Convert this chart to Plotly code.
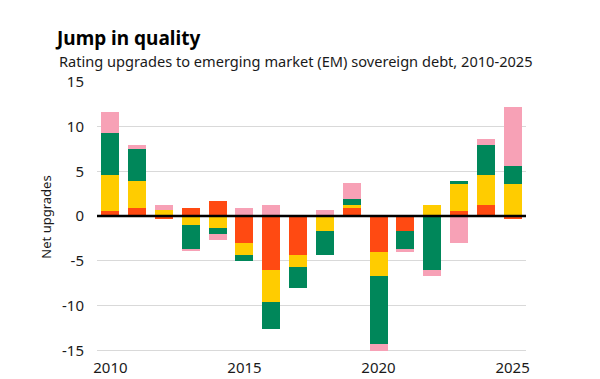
import plotly.graph_objects as go

years = list(range(2010, 2026))
orange = [0.6, 0.9, -0.35, 0.95, 1.65, -3.0, -6.0, -4.3, 0, 0.95, -4.0, -1.65, 0, 0.6, 1.27, -0.35]
yellow = [4.0, 3.0, 0.65, -1.0, -1.3, -1.3, -3.65, -1.35, -1.7, 0.3, -2.7, 0, 1.27, 3.0, 3.35, 3.6]
green = [4.7, 3.65, 0, -2.7, -0.7, -0.75, -3.0, -2.4, -2.6, 0.65, -7.6, -2.0, -6.0, 0.37, 3.36, 1.95]
pink = [2.3, 0.4, 0.6, -0.25, -0.65, 0.96, 1.27, 0, 0.65, 1.75, -0.8, -0.35, -0.7, -3.0, 0.64, 6.7]

series = [
    ("Series 1", orange, "#FF4A12"),
    ("Series 2", yellow, "#FFCC00"),
    ("Series 3", green, "#00875A"),
    ("Series 4", pink, "#F7A1B6"),
]

yticks = [-15, -10, -5, 0, 5, 10, 15]
xticks = [2010, 2015, 2020, 2025]

FONT = "Noto Sans"

fig = go.Figure()
for name, vals, col in series:
    fig.add_trace(go.Bar(x=years, y=vals, name=name, marker=dict(color=col, line=dict(width=0)),
                         width=0.67))

# page body has an 8px default margin; lay out in page coords minus 8
OFF = 8
W, H = 600 - OFF, 379 - OFF
L = 97 - OFF
T = 81 - OFF
R = W - (526 - OFF)
B = H - (352.7 - OFF)
pw = W - L - R
ph = H - T - B

fig.update_layout(
    width=W, height=H,
    margin=dict(l=L, r=R, t=T, b=B, autoexpand=False),
    barmode="relative",
    showlegend=False,
    plot_bgcolor="white", paper_bgcolor="white",
    font=dict(family=FONT, color="#1a1a1a"),
    title=dict(text="<b>Jump in quality</b>", x=(57 - OFF) / W, xref="container", xanchor="left",
               y=1 - (38 - OFF) / H, yref="container", yanchor="middle", automargin=False,
               font=dict(size=19, family=FONT, color="#000000")),
    xaxis=dict(range=[2009.5, 2025.5], tickvals=xticks, ticktext=[str(v) for v in xticks],
               showgrid=False, zeroline=False, showline=False, ticks="", automargin=False,
               tickfont=dict(size=15, family=FONT, color="#1a1a1a"), ticklabelstandoff=4),
    yaxis=dict(range=[-15.3, 15.1], tickvals=yticks, ticktext=[str(v) for v in yticks],
               showgrid=True, gridcolor="#d9d9d9", gridwidth=1, zeroline=False, showline=False,
               ticks="", automargin=False,
               tickfont=dict(size=15, family=FONT, color="#1a1a1a"), ticklabelstandoff=12,
               title=dict(text="Net upgrades", font=dict(size=13, family=FONT, color="#1a1a1a"),
                          standoff=7)),
    bargap=0,
)

fig.add_annotation(text="Rating upgrades to emerging market (EM) sovereign debt, 2010-2025",
                   xref="paper", yref="paper", x=(57 - 97) / pw, y=(352.7 - 61) / ph,
                   xanchor="left", yanchor="middle", showarrow=False,
                   font=dict(size=14.6, family=FONT, color="#1a1a1a"))

fig.add_shape(type="line", xref="paper", yref="y", x0=0, x1=1, y0=0, y1=0,
              line=dict(color="#000000", width=2.5), layer="above")

fig.write_html("out.html")
